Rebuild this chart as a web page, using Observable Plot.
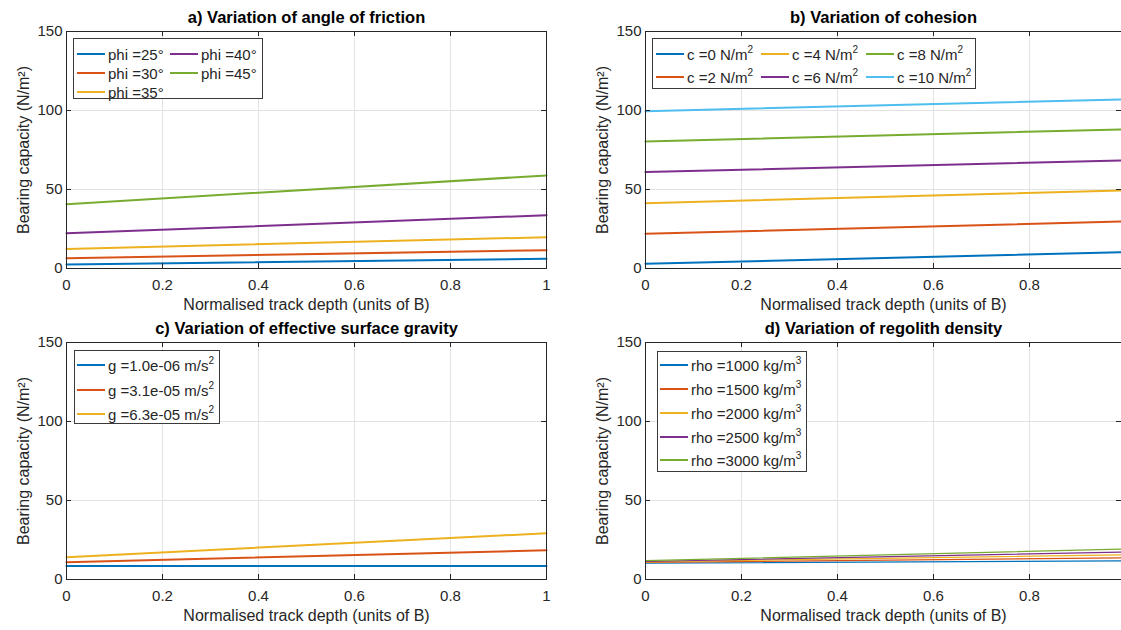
<!DOCTYPE html>
<html><head><meta charset="utf-8">
<script src="https://cdn.jsdelivr.net/npm/d3@7"></script>
<script src="https://cdn.jsdelivr.net/npm/@observablehq/plot@0.6"></script>
<style>
body{margin:0;background:#fff;}
#fig{position:relative;width:1121px;height:630px;overflow:hidden;background:#fff;font-family:"Liberation Sans",Arial,sans-serif;color:#262626;}
#fig svg{position:absolute;overflow:visible;}
.legend{position:absolute;border:1px solid #3a3a3a;background:#fff;font-size:15px;box-sizing:border-box;}
.item{position:absolute;height:20px;display:flex;align-items:center;white-space:nowrap;color:#262626;}
.sw{display:inline-block;width:28px;margin-right:3px;}
.item sup{font-size:10px;line-height:0;vertical-align:7px;}
</style>
</head><body>
<div id="fig"></div>
<script>
// ---------- data ----------
const yTicks = [0, 50, 100, 150];
const xTicksFull = [0, 0.2, 0.4, 0.6, 0.8, 1];
const xTicksCut = [0, 0.2, 0.4, 0.6, 0.8];
const depthFull = [0, 1];
const depthCut = [0, 0.99];
const colors = ["#0072BD", "#D95319", "#EDB120", "#7E2F8E", "#77AC30", "#4DBEEE"];

const titleA = "a) Variation of angle of friction";
const titleB = "b) Variation of cohesion";
const titleC = "c) Variation of effective surface gravity";
const titleD = "d) Variation of regolith density";
const xLabel = "Normalised track depth (units of B)";
const yLabel = "Bearing capacity (N/m²)";

const phiLabels = ["phi =25°", "phi =30°", "phi =35°", "phi =40°", "phi =45°"];
const phiAtStart = [2.6, 6.5, 12.4, 22.3, 40.7];
const phiAtEnd = [6.2, 11.6, 19.8, 33.7, 58.9];

const cohLabels = ["c =0 N/m^2", "c =2 N/m^2", "c =4 N/m^2", "c =6 N/m^2", "c =8 N/m^2", "c =10 N/m^2"];
const cohAtStart = [3.0, 22.0, 41.3, 61.0, 80.4, 99.6];
const cohAtEnd = [10.3, 29.7, 49.4, 68.4, 88.0, 107.0];

const gLabels = ["g =1.0e-06 m/s^2", "g =3.1e-05 m/s^2", "g =6.3e-05 m/s^2"];
const gAtStart = [8.5, 10.9, 14.1];
const gAtEnd = [8.6, 18.5, 29.3];

const rhoLabels = ["rho =1000 kg/m^3", "rho =1500 kg/m^3", "rho =2000 kg/m^3", "rho =2500 kg/m^3", "rho =3000 kg/m^3"];
const rhoAtStart = [10.3, 10.8, 11.1, 11.4, 11.9];
const rhoAtEnd = [11.8, 13.7, 15.6, 17.3, 19.2];

// ---------- drawing ----------
const fig = document.getElementById("fig");

function panel(cfg) {
  const {left, top, width, height, mL, mR, mT, mB, xDomain, xTicks, depth, labels, starts, ends, title, lw} = cfg;
  const plotW = width - mL - mR, plotH = height - mT - mB;
  const rows = [];
  labels.forEach((lab, i) => {
    rows.push({s: lab, x: depth[0], y: starts[i]});
    rows.push({s: lab, x: depth[1], y: ends[i]});
  });
  const dark = "#262626";
  const svg = Plot.plot({
    width, height,
    marginLeft: mL, marginRight: mR, marginTop: mT, marginBottom: mB,
    x: {domain: xDomain},
    y: {domain: [0, 150]},
    color: {domain: labels, range: colors.slice(0, labels.length)},
    style: {fontFamily: "'Liberation Sans', Arial, sans-serif", fontSize: "15px", color: dark, background: "transparent", overflow: "visible"},
    marks: [
      Plot.gridX(xTicks, {stroke: "#e2e2e2", strokeOpacity: 1}),
      Plot.gridY(yTicks, {stroke: "#e2e2e2", strokeOpacity: 1}),
      Plot.line(rows, {x: "x", y: "y", z: "s", stroke: "s", strokeWidth: lw}),
      Plot.frame({stroke: dark}),
      Plot.tickX(xTicks, {x: d => d, insetTop: plotH - 5, stroke: dark}),
      Plot.tickX(xTicks, {x: d => d, insetBottom: plotH - 5, stroke: dark}),
      Plot.tickY(yTicks, {y: d => d, insetRight: plotW - 5, stroke: dark}),
      Plot.tickY(yTicks, {y: d => d, insetLeft: plotW - 5, stroke: dark}),
      Plot.axisX(xTicks, {tickSize: 0, tickPadding: 11, fontSize: 15, label: null, tickFormat: d => String(d)}),
      Plot.axisY(yTicks, {tickSize: 0, tickPadding: 4, fontSize: 15, label: null, tickFormat: d => String(d)}),
      Plot.text([xLabel], {text: d => d, frameAnchor: "bottom", textAnchor: "middle", lineAnchor: "middle", dy: 36, fontSize: 16, fill: dark}),
      Plot.text([yLabel], {text: d => d, frameAnchor: "left", textAnchor: "middle", lineAnchor: "middle", dx: -43, rotate: -90, fontSize: 16, fill: dark}),
      Plot.text([title], {text: d => d, frameAnchor: "top", textAnchor: "middle", lineAnchor: "middle", dy: -13.6, fontSize: 16.5, fontWeight: "bold", fill: "#000"})
    ]
  });
  svg.style.left = left + "px";
  svg.style.top = top + "px";
  fig.appendChild(svg);
}

function legend(cfg) {
  const {left, top, width, height, rowY, colX, labels, lh} = cfg;
  const box = document.createElement("div");
  box.className = "legend";
  Object.assign(box.style, {left: left + "px", top: top + "px", width: width + "px", height: height + "px"});
  const nRows = rowY.length;
  labels.forEach((lab, i) => {
    const r = i % nRows, c = Math.floor(i / nRows);
    const it = document.createElement("div");
    it.className = "item";
    it.style.left = colX[c] + "px";
    it.style.top = (rowY[r] - 10) + "px";
    const sw = document.createElement("span");
    sw.className = "sw";
    sw.style.height = lh + "px";
    sw.style.background = colors[i];
    it.appendChild(sw);
    const tx = document.createElement("span");
    tx.innerHTML = lab.replace(/\^(\d)/, "<sup>$1</sup>");
    it.appendChild(tx);
    box.appendChild(it);
  });
  fig.appendChild(box);
}

const common = {height: 315, mT: 31, mB: 47};
panel({...common, left: 0, top: 0, width: 560, mL: 66, mR: 14, xDomain: [0, 1], xTicks: xTicksFull, depth: depthFull,
  labels: phiLabels, starts: phiAtStart, ends: phiAtEnd, title: titleA, lw: 2});
panel({...common, left: 580, top: 0, width: 541, mL: 65, mR: 0, xDomain: [0, 476 / 480], xTicks: xTicksCut, depth: depthCut,
  labels: cohLabels, starts: cohAtStart, ends: cohAtEnd, title: titleB, lw: 2});
panel({...common, left: 0, top: 311, width: 560, mL: 66, mR: 14, xDomain: [0, 1], xTicks: xTicksFull, depth: depthFull,
  labels: gLabels, starts: gAtStart, ends: gAtEnd, title: titleC, lw: 2});
panel({...common, left: 580, top: 311, width: 541, mL: 65, mR: 0, xDomain: [0, 476 / 480], xTicks: xTicksCut, depth: depthCut,
  labels: rhoLabels, starts: rhoAtStart, ends: rhoAtEnd, title: titleD, lw: 1.2});

legend({left: 73, top: 38, width: 190, height: 61, rowY: [15, 34, 53], colX: [3, 96], labels: phiLabels, lh: 2});
legend({left: 652, top: 38, width: 324, height: 51, rowY: [15, 38], colX: [3, 108, 213], labels: cohLabels, lh: 2});
legend({left: 74, top: 350, width: 146, height: 74, rowY: [14, 39, 63], colX: [2], labels: gLabels, lh: 2});
legend({left: 657, top: 351, width: 150, height: 121, rowY: [13, 37, 61, 85, 108], colX: [2], labels: rhoLabels, lh: 1.5});
</script>
</body></html>
